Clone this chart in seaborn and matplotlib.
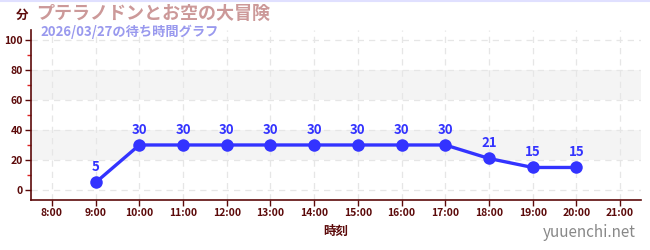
import matplotlib
matplotlib.use("Agg")
import matplotlib.pyplot as plt
from matplotlib.lines import Line2D
import seaborn as sns
import pandas as pd

# Wait times through the day
hours = [9, 10, 11, 12, 13, 14, 15, 16, 17, 18, 19, 20]
wait_minutes = [5, 30, 30, 30, 30, 30, 30, 30, 30, 21, 15, 15]
tick_hours = list(range(8, 22))
tick_labels = [f"{h}:00" for h in tick_hours]
y_ticks = [0, 20, 40, 60, 80, 100]

title = "プテラノドンとお空の大冒険"
subtitle = "2026/03/27の待ち時間グラフ"
unit_label = "分"
x_label = "時刻"
site = "yuuenchi.net"

sns.set_theme(style="white")
plt.rcParams["font.family"] = ["Noto Sans CJK JP", "DejaVu Sans"]

axis_color = "#5c0a0a"
line_color = "#3333ff"

df = pd.DataFrame({"hour": hours, "wait": wait_minutes})

fig = plt.figure(figsize=(6.5, 2.5), dpi=100)
ax = fig.add_axes([0.048, 0.2, 0.938, 0.68])

ax.set_xlim(7.525, 21.475)
ax.set_ylim(-6.7, 106.7)

# alternating bands
for lo, hi in [(20, 40), (60, 80)]:
    ax.axhspan(lo, hi, color="#f4f4f4", zorder=0, lw=0)

ax.set_xticks(tick_hours)
ax.set_xticklabels(tick_labels)
ax.set_yticks(y_ticks)
ax.set_yticks([10, 30, 50, 70, 90], minor=True)

ax.grid(True, which="major", color="#e6e6e6", linestyle=(0, (5, 4)), linewidth=0.9, zorder=0)

sns.lineplot(data=df, x="hour", y="wait", ax=ax, color=line_color, linewidth=2.4,
             marker="o", markersize=9, markeredgewidth=0, zorder=3)

for h, w in zip(hours, wait_minutes):
    ax.annotate(str(w), (h, w), xytext=(0, 6), textcoords="offset points",
                ha="center", va="bottom", color=line_color, fontsize=9.5,
                fontweight="bold", zorder=4)

for side in ["top", "right"]:
    ax.spines[side].set_visible(False)
for side in ["left", "bottom"]:
    ax.spines[side].set_color(axis_color)
    ax.spines[side].set_linewidth(1.2)

ax.tick_params(axis="both", which="major", colors=axis_color, labelsize=7.5,
               length=4, width=1, direction="out", left=True, bottom=True, pad=2)
ax.tick_params(axis="y", which="minor", colors="#dd2222", length=3, width=1, left=True)
for lbl in ax.get_xticklabels() + ax.get_yticklabels():
    lbl.set_color(axis_color)
    lbl.set_fontweight("bold")

ax.set_xlabel(x_label, color=axis_color, fontsize=9, fontweight="bold", labelpad=5)
ax.set_ylabel("")

fig.text(0.025, 0.94, unit_label, color=axis_color, fontsize=9, fontweight="bold",
         ha="left", va="center")
fig.text(0.055, 0.945, title, color="#cc9999", fontsize=13, fontweight="bold",
         ha="left", va="center")
fig.text(0.062, 0.872, subtitle, color="#9999ee", fontsize=9.5, fontweight="bold",
         ha="left", va="center")
fig.text(0.978, 0.07, site, color="#888888", fontsize=11, ha="right", va="center")

fig.add_artist(Line2D([0, 1], [0.998, 0.998], transform=fig.transFigure,
                      color="#e0e0ff", linewidth=1.5))

fig.savefig("out.png", dpi=100)
